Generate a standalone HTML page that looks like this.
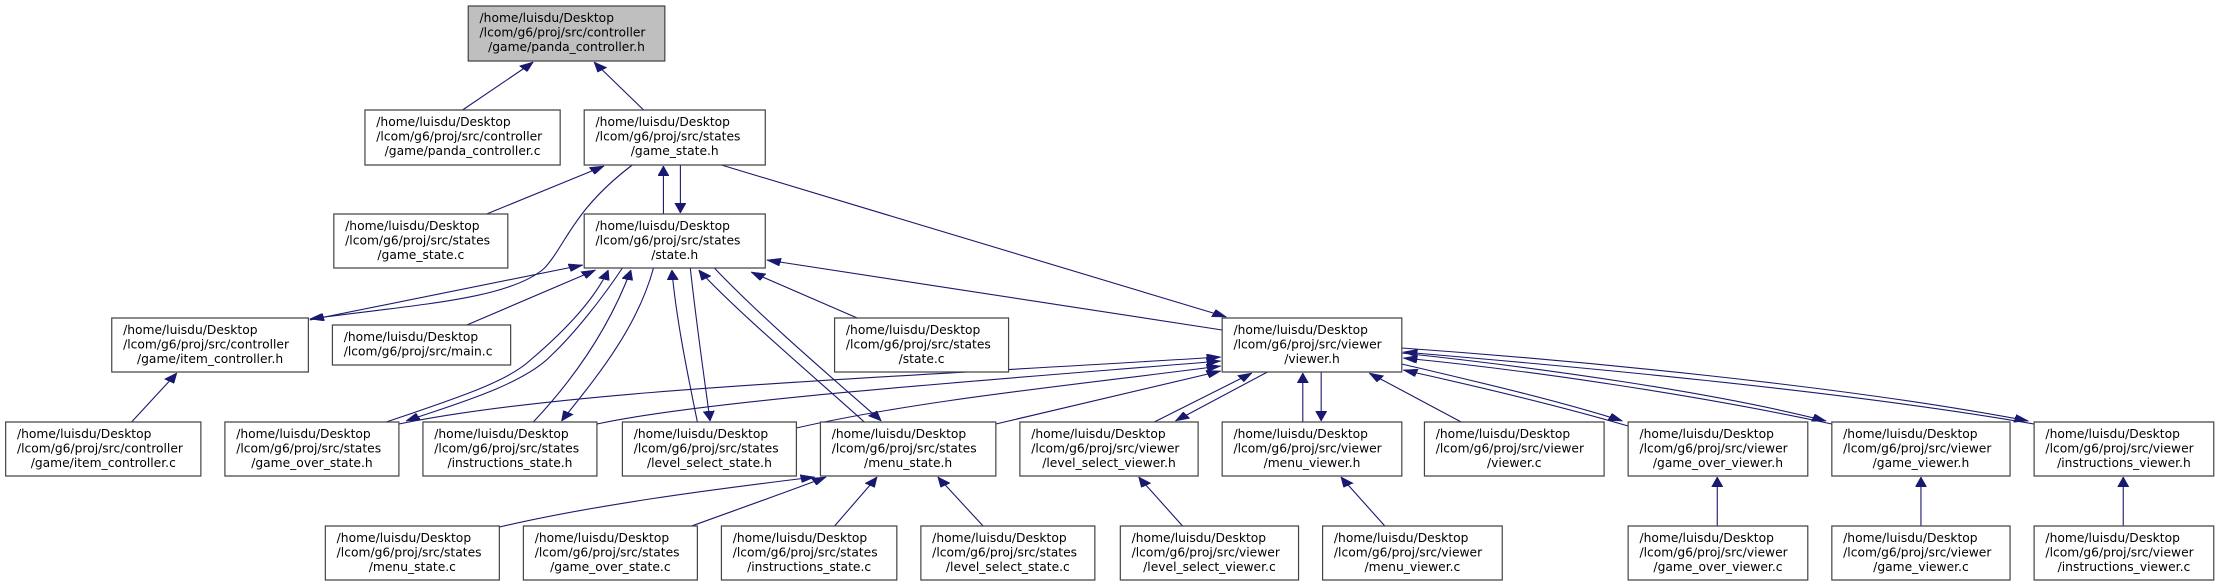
<!DOCTYPE html>
<html><head><meta charset="utf-8"><style>
html,body{margin:0;padding:0;background:#fff;}
svg{display:block;}
text{font-family:"DejaVu Sans","Liberation Sans",sans-serif;font-size:12.3px;fill:#000;}
rect{fill:#fff;stroke:#444;stroke-width:1.2;}
path{fill:none;stroke:#191970;stroke-width:1.1;}
</style></head><body>
<svg width="2218" height="587" viewBox="0 0 1568 587" preserveAspectRatio="none" xmlns="http://www.w3.org/2000/svg">
<defs>
<marker id="a" markerUnits="userSpaceOnUse" markerWidth="10" markerHeight="8" refX="10" refY="4" orient="auto">
<path d="M0,0 L10,4 L0,8 z" style="fill:#191970;stroke:#191970;stroke-width:0.5"/>
</marker>
</defs>
<g marker-end="url(#a)">
<path vector-effect="non-scaling-stroke" d="M327,110 L377,62"/>
<path vector-effect="non-scaling-stroke" d="M455,110 L420,62"/>
<path vector-effect="non-scaling-stroke" d="M344,214 L427,166"/>
<path vector-effect="non-scaling-stroke" d="M469,214 L469,166"/>
<path vector-effect="non-scaling-stroke" d="M481,165 L481,213"/>
<path vector-effect="non-scaling-stroke" d="M447,165 C405,210 400,245 385,268 C360,300 290,305 219,319"/>
<path vector-effect="non-scaling-stroke" d="M510,165 L867,317"/>
<path vector-effect="non-scaling-stroke" d="M864,330 L542,260"/>
<path vector-effect="non-scaling-stroke" d="M330,325 L421,270"/>
<path vector-effect="non-scaling-stroke" d="M219,320 L412,265"/>
<path vector-effect="non-scaling-stroke" d="M606,318 L531,272"/>
<path vector-effect="non-scaling-stroke" d="M273,422 C330,395 360,380 375,360 C400,330 420,300 430,270"/>
<path vector-effect="non-scaling-stroke" d="M440,268 C425,300 405,335 390,355 C370,385 320,405 287,421"/>
<path vector-effect="non-scaling-stroke" d="M377,422 C405,380 430,330 446,270"/>
<path vector-effect="non-scaling-stroke" d="M462,268 C450,330 420,380 397,421"/>
<path vector-effect="non-scaling-stroke" d="M493,422 C487,380 478,320 475,270"/>
<path vector-effect="non-scaling-stroke" d="M488,268 C492,320 498,380 502,421"/>
<path vector-effect="non-scaling-stroke" d="M611,422 C570,370 520,310 494,270"/>
<path vector-effect="non-scaling-stroke" d="M505,268 C540,320 590,380 623,421"/>
<path vector-effect="non-scaling-stroke" d="M282,424 C400,390 600,380 863,357"/>
<path vector-effect="non-scaling-stroke" d="M422,424 C500,400 700,380 863,361"/>
<path vector-effect="non-scaling-stroke" d="M563,428 C650,400 760,385 863,366"/>
<path vector-effect="non-scaling-stroke" d="M704,424 L863,371"/>
<path vector-effect="non-scaling-stroke" d="M816,422 L885,373"/>
<path vector-effect="non-scaling-stroke" d="M896,372 L831,421"/>
<path vector-effect="non-scaling-stroke" d="M921,422 L921,373"/>
<path vector-effect="non-scaling-stroke" d="M934,372 L934,421"/>
<path vector-effect="non-scaling-stroke" d="M1033,422 L968,373"/>
<path vector-effect="non-scaling-stroke" d="M1151,426 C1100,405 1040,385 992,370"/>
<path vector-effect="non-scaling-stroke" d="M991,364 C1045,382 1100,400 1147,421"/>
<path vector-effect="non-scaling-stroke" d="M1295,424 C1200,395 1080,370 992,358"/>
<path vector-effect="non-scaling-stroke" d="M991,353 C1090,368 1210,392 1291,421"/>
<path vector-effect="non-scaling-stroke" d="M1438,424 C1300,390 1100,365 992,352"/>
<path vector-effect="non-scaling-stroke" d="M991,348 C1110,360 1300,385 1434,421"/>
<path vector-effect="non-scaling-stroke" d="M353,527 C420,505 500,490 576,477"/>
<path vector-effect="non-scaling-stroke" d="M487,527 C530,505 560,490 584,477"/>
<path vector-effect="non-scaling-stroke" d="M590,526 L620,477"/>
<path vector-effect="non-scaling-stroke" d="M695,526 L663,477"/>
<path vector-effect="non-scaling-stroke" d="M836,526 L805,477"/>
<path vector-effect="non-scaling-stroke" d="M979,526 L948,477"/>
<path vector-effect="non-scaling-stroke" d="M1214,526 L1214,477"/>
<path vector-effect="non-scaling-stroke" d="M1358,526 L1358,477"/>
<path vector-effect="non-scaling-stroke" d="M1501,526 L1501,477"/>
<path vector-effect="non-scaling-stroke" d="M93,422 L125,373"/>
</g>
<g>
<rect vector-effect="non-scaling-stroke" x="331" y="6" width="139" height="55" style="fill:#bfbfbf"/>
<rect vector-effect="non-scaling-stroke" x="258" y="110" width="138" height="55"/>
<rect vector-effect="non-scaling-stroke" x="413" y="110" width="128" height="55"/>
<rect vector-effect="non-scaling-stroke" x="236" y="214" width="123" height="54"/>
<rect vector-effect="non-scaling-stroke" x="413" y="214" width="128" height="54"/>
<rect vector-effect="non-scaling-stroke" x="79" y="318" width="139" height="54"/>
<rect vector-effect="non-scaling-stroke" x="235" y="325" width="126" height="40"/>
<rect vector-effect="non-scaling-stroke" x="590" y="318" width="123" height="54"/>
<rect vector-effect="non-scaling-stroke" x="864" y="318" width="127" height="54"/>
<rect vector-effect="non-scaling-stroke" x="4" y="422" width="138" height="54"/>
<rect vector-effect="non-scaling-stroke" x="159" y="422" width="123" height="54"/>
<rect vector-effect="non-scaling-stroke" x="299" y="422" width="123" height="54"/>
<rect vector-effect="non-scaling-stroke" x="440" y="422" width="123" height="54"/>
<rect vector-effect="non-scaling-stroke" x="580" y="422" width="124" height="54"/>
<rect vector-effect="non-scaling-stroke" x="721" y="422" width="126" height="54"/>
<rect vector-effect="non-scaling-stroke" x="864" y="422" width="127" height="54"/>
<rect vector-effect="non-scaling-stroke" x="1007" y="422" width="127" height="54"/>
<rect vector-effect="non-scaling-stroke" x="1151" y="422" width="127" height="54"/>
<rect vector-effect="non-scaling-stroke" x="1295" y="422" width="126" height="54"/>
<rect vector-effect="non-scaling-stroke" x="1438" y="422" width="127" height="54"/>
<rect vector-effect="non-scaling-stroke" x="230" y="526" width="123" height="54"/>
<rect vector-effect="non-scaling-stroke" x="370" y="526" width="123" height="54"/>
<rect vector-effect="non-scaling-stroke" x="510" y="526" width="124" height="54"/>
<rect vector-effect="non-scaling-stroke" x="651" y="526" width="123" height="54"/>
<rect vector-effect="non-scaling-stroke" x="792" y="526" width="126" height="54"/>
<rect vector-effect="non-scaling-stroke" x="935" y="526" width="127" height="54"/>
<rect vector-effect="non-scaling-stroke" x="1151" y="526" width="127" height="54"/>
<rect vector-effect="non-scaling-stroke" x="1295" y="526" width="126" height="54"/>
<rect vector-effect="non-scaling-stroke" x="1438" y="526" width="127" height="54"/>
</g>
<g>
<text transform="translate(339,22) scale(.7069,1)">/home/luisdu/Desktop</text><text transform="translate(339,36.5) scale(.7069,1)">/lcom/g6/proj/src/controller</text><text text-anchor="middle" transform="translate(400.5,51) scale(.7069,1)">/game/panda_controller.h</text>
<text transform="translate(266,126) scale(.7069,1)">/home/luisdu/Desktop</text><text transform="translate(266,140.5) scale(.7069,1)">/lcom/g6/proj/src/controller</text><text text-anchor="middle" transform="translate(327,155) scale(.7069,1)">/game/panda_controller.c</text>
<text transform="translate(421,126) scale(.7069,1)">/home/luisdu/Desktop</text><text transform="translate(421,140.5) scale(.7069,1)">/lcom/g6/proj/src/states</text><text text-anchor="middle" transform="translate(477,155) scale(.7069,1)">/game_state.h</text>
<text transform="translate(244,230) scale(.7069,1)">/home/luisdu/Desktop</text><text transform="translate(244,244.5) scale(.7069,1)">/lcom/g6/proj/src/states</text><text text-anchor="middle" transform="translate(297.5,259) scale(.7069,1)">/game_state.c</text>
<text transform="translate(421,230) scale(.7069,1)">/home/luisdu/Desktop</text><text transform="translate(421,244.5) scale(.7069,1)">/lcom/g6/proj/src/states</text><text text-anchor="middle" transform="translate(477,259) scale(.7069,1)">/state.h</text>
<text transform="translate(87,334) scale(.7069,1)">/home/luisdu/Desktop</text><text transform="translate(87,348.5) scale(.7069,1)">/lcom/g6/proj/src/controller</text><text text-anchor="middle" transform="translate(148.5,363) scale(.7069,1)">/game/item_controller.h</text>
<text transform="translate(243,341) scale(.7069,1)">/home/luisdu/Desktop</text><text transform="translate(243,355.5) scale(.7069,1)">/lcom/g6/proj/src/main.c</text>
<text transform="translate(598,334) scale(.7069,1)">/home/luisdu/Desktop</text><text transform="translate(598,348.5) scale(.7069,1)">/lcom/g6/proj/src/states</text><text text-anchor="middle" transform="translate(651.5,363) scale(.7069,1)">/state.c</text>
<text transform="translate(872,334) scale(.7069,1)">/home/luisdu/Desktop</text><text transform="translate(872,348.5) scale(.7069,1)">/lcom/g6/proj/src/viewer</text><text text-anchor="middle" transform="translate(927.5,363) scale(.7069,1)">/viewer.h</text>

<text transform="translate(12,438) scale(.7069,1)">/home/luisdu/Desktop</text><text transform="translate(12,452.5) scale(.7069,1)">/lcom/g6/proj/src/controller</text><text text-anchor="middle" transform="translate(73,467) scale(.7069,1)">/game/item_controller.c</text>
<text transform="translate(167,438) scale(.7069,1)">/home/luisdu/Desktop</text><text transform="translate(167,452.5) scale(.7069,1)">/lcom/g6/proj/src/states</text><text text-anchor="middle" transform="translate(220.5,467) scale(.7069,1)">/game_over_state.h</text>
<text transform="translate(307,438) scale(.7069,1)">/home/luisdu/Desktop</text><text transform="translate(307,452.5) scale(.7069,1)">/lcom/g6/proj/src/states</text><text text-anchor="middle" transform="translate(360.5,467) scale(.7069,1)">/instructions_state.h</text>
<text transform="translate(448,438) scale(.7069,1)">/home/luisdu/Desktop</text><text transform="translate(448,452.5) scale(.7069,1)">/lcom/g6/proj/src/states</text><text text-anchor="middle" transform="translate(501.5,467) scale(.7069,1)">/level_select_state.h</text>
<text transform="translate(588,438) scale(.7069,1)">/home/luisdu/Desktop</text><text transform="translate(588,452.5) scale(.7069,1)">/lcom/g6/proj/src/states</text><text text-anchor="middle" transform="translate(642,467) scale(.7069,1)">/menu_state.h</text>
<text transform="translate(729,438) scale(.7069,1)">/home/luisdu/Desktop</text><text transform="translate(729,452.5) scale(.7069,1)">/lcom/g6/proj/src/viewer</text><text text-anchor="middle" transform="translate(784,467) scale(.7069,1)">/level_select_viewer.h</text>
<text transform="translate(872,438) scale(.7069,1)">/home/luisdu/Desktop</text><text transform="translate(872,452.5) scale(.7069,1)">/lcom/g6/proj/src/viewer</text><text text-anchor="middle" transform="translate(927.5,467) scale(.7069,1)">/menu_viewer.h</text>
<text transform="translate(1015,438) scale(.7069,1)">/home/luisdu/Desktop</text><text transform="translate(1015,452.5) scale(.7069,1)">/lcom/g6/proj/src/viewer</text><text text-anchor="middle" transform="translate(1070.5,467) scale(.7069,1)">/viewer.c</text>
<text transform="translate(1159,438) scale(.7069,1)">/home/luisdu/Desktop</text><text transform="translate(1159,452.5) scale(.7069,1)">/lcom/g6/proj/src/viewer</text><text text-anchor="middle" transform="translate(1214.5,467) scale(.7069,1)">/game_over_viewer.h</text>
<text transform="translate(1303,438) scale(.7069,1)">/home/luisdu/Desktop</text><text transform="translate(1303,452.5) scale(.7069,1)">/lcom/g6/proj/src/viewer</text><text text-anchor="middle" transform="translate(1358,467) scale(.7069,1)">/game_viewer.h</text>
<text transform="translate(1446,438) scale(.7069,1)">/home/luisdu/Desktop</text><text transform="translate(1446,452.5) scale(.7069,1)">/lcom/g6/proj/src/viewer</text><text text-anchor="middle" transform="translate(1501.5,467) scale(.7069,1)">/instructions_viewer.h</text>

<text transform="translate(238,542) scale(.7069,1)">/home/luisdu/Desktop</text><text transform="translate(238,556.5) scale(.7069,1)">/lcom/g6/proj/src/states</text><text text-anchor="middle" transform="translate(291.5,571) scale(.7069,1)">/menu_state.c</text>
<text transform="translate(378,542) scale(.7069,1)">/home/luisdu/Desktop</text><text transform="translate(378,556.5) scale(.7069,1)">/lcom/g6/proj/src/states</text><text text-anchor="middle" transform="translate(431.5,571) scale(.7069,1)">/game_over_state.c</text>
<text transform="translate(518,542) scale(.7069,1)">/home/luisdu/Desktop</text><text transform="translate(518,556.5) scale(.7069,1)">/lcom/g6/proj/src/states</text><text text-anchor="middle" transform="translate(572,571) scale(.7069,1)">/instructions_state.c</text>
<text transform="translate(659,542) scale(.7069,1)">/home/luisdu/Desktop</text><text transform="translate(659,556.5) scale(.7069,1)">/lcom/g6/proj/src/states</text><text text-anchor="middle" transform="translate(712.5,571) scale(.7069,1)">/level_select_state.c</text>
<text transform="translate(800,542) scale(.7069,1)">/home/luisdu/Desktop</text><text transform="translate(800,556.5) scale(.7069,1)">/lcom/g6/proj/src/viewer</text><text text-anchor="middle" transform="translate(855,571) scale(.7069,1)">/level_select_viewer.c</text>
<text transform="translate(943,542) scale(.7069,1)">/home/luisdu/Desktop</text><text transform="translate(943,556.5) scale(.7069,1)">/lcom/g6/proj/src/viewer</text><text text-anchor="middle" transform="translate(998.5,571) scale(.7069,1)">/menu_viewer.c</text>
<text transform="translate(1159,542) scale(.7069,1)">/home/luisdu/Desktop</text><text transform="translate(1159,556.5) scale(.7069,1)">/lcom/g6/proj/src/viewer</text><text text-anchor="middle" transform="translate(1214.5,571) scale(.7069,1)">/game_over_viewer.c</text>
<text transform="translate(1303,542) scale(.7069,1)">/home/luisdu/Desktop</text><text transform="translate(1303,556.5) scale(.7069,1)">/lcom/g6/proj/src/viewer</text><text text-anchor="middle" transform="translate(1358,571) scale(.7069,1)">/game_viewer.c</text>
<text transform="translate(1446,542) scale(.7069,1)">/home/luisdu/Desktop</text><text transform="translate(1446,556.5) scale(.7069,1)">/lcom/g6/proj/src/viewer</text><text text-anchor="middle" transform="translate(1501.5,571) scale(.7069,1)">/instructions_viewer.c</text>
</g>
</svg>
</body></html>
